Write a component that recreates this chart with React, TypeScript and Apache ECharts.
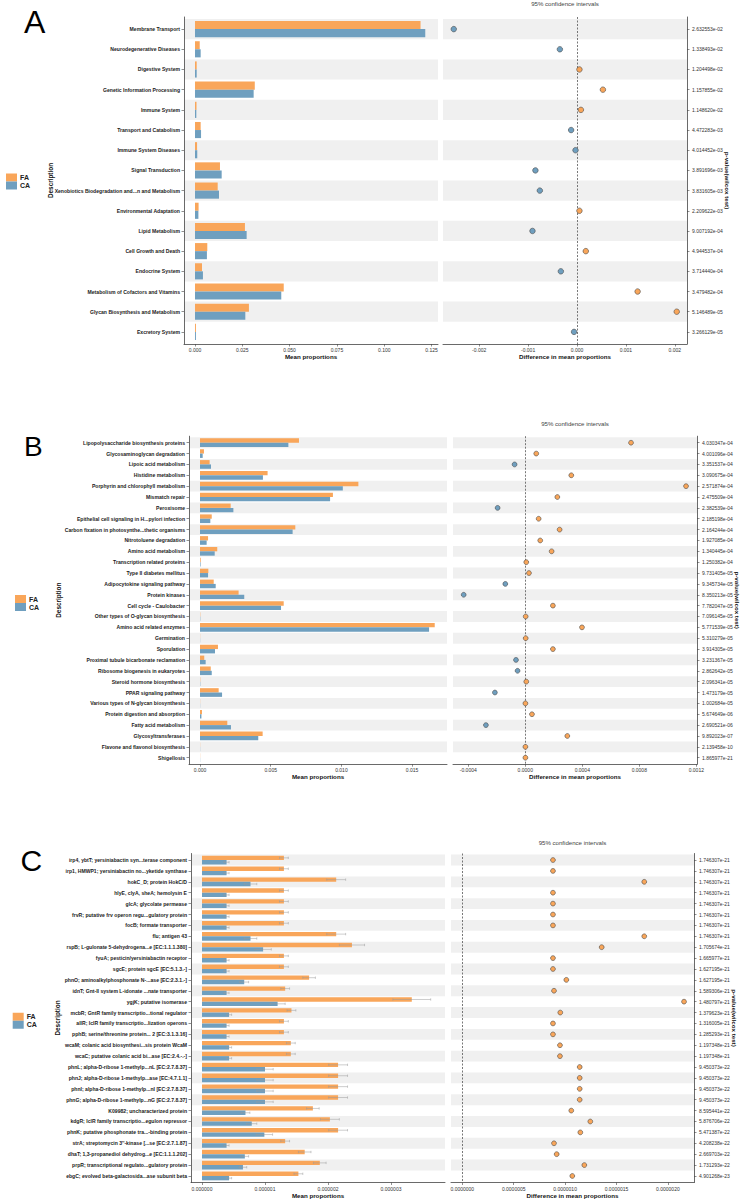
import { useEffect, useRef } from 'react';
import * as echarts from 'echarts';

const FA_COLOR = '#F9A65A';
const CA_COLOR = '#6F9FBF';
const BAND_COLOR = '#F0F0F0';
const FONT = '"Liberation Sans", Arial, Helvetica, sans-serif';

// ---------------- Panel A ----------------
const catsA = [
  'Membrane Transport', 'Neurodegenerative Diseases', 'Digestive System', 'Genetic Information Processing',
  'Immune System', 'Transport and Catabolism', 'Immune System Diseases', 'Signal Transduction',
  'Xenobiotics Biodegradation and...n and Metabolism', 'Environmental Adaptation', 'Lipid Metabolism',
  'Cell Growth and Death', 'Endocrine System', 'Metabolism of Cofactors and Vitamins',
  'Glycan Biosynthesis and Metabolism', 'Excretory System',
];
const faA = [0.1192, 0.0025, 0.0009, 0.0316, 0.0008, 0.0030, 0.0011, 0.0132, 0.0120, 0.0019, 0.0264, 0.0065, 0.0037, 0.0469, 0.0285, 0.0005];
const caA = [0.1217, 0.0030, 0.0009, 0.0310, 0.0007, 0.0032, 0.0012, 0.0141, 0.0127, 0.0018, 0.0273, 0.0063, 0.0042, 0.0456, 0.0266, 0.0005];
const diffA = [-0.00252, -0.00035, 0.00005, 0.00053, 0.00008, -0.00012, -0.00003, -0.00085, -0.00076, 0.00005, -0.00091, 0.00018, -0.00033, 0.00124, 0.00204, -0.00006];
const pA = [
  '2.632553e-02', '1.338493e-02', '1.204498e-02', '1.157855e-02', '1.148620e-02', '4.472283e-03',
  '4.014452e-03', '3.891696e-03', '3.831605e-03', '2.209622e-03', '9.007192e-04', '4.944537e-04',
  '3.714440e-04', '3.479482e-04', '5.146489e-05', '3.266129e-05',
];
const ticksALeft = [0, 0.025, 0.05, 0.075, 0.1, 0.125];
const ticksARight = [-0.002, -0.001, 0, 0.001, 0.002];

// ---------------- Panel B ----------------
const catsB = [
  'Lipopolysaccharide biosynthesis proteins', 'Glycosaminoglycan degradation', 'Lipoic acid metabolism',
  'Histidine metabolism', 'Porphyrin and chlorophyll metabolism', 'Mismatch repair', 'Peroxisome',
  'Epithelial cell signaling in H...pylori infection', 'Carbon fixation in photosynthe...thetic organisms',
  'Nitrotoluene degradation', 'Amino acid metabolism', 'Transcription related proteins',
  'Type II diabetes mellitus', 'Adipocytokine signaling pathway', 'Protein kinases', 'Cell cycle - Caulobacter',
  'Other types of O-glycan biosynthesis', 'Amino acid related enzymes', 'Germination', 'Sporulation',
  'Proximal tubule bicarbonate reclamation', 'Ribosome biogenesis in eukaryotes', 'Steroid hormone biosynthesis',
  'PPAR signaling pathway', 'Various types of N-glycan biosynthesis', 'Protein digestion and absorption',
  'Fatty acid metabolism', 'Glycosyltransferases', 'Flavone and flavonol biosynthesis', 'Shigellosis',
];
const faB = [0.0070, 0.00028, 0.00068, 0.00478, 0.0112, 0.0094, 0.00217, 0.00083, 0.00674, 0.00057, 0.00122, 0.00005, 0.00059, 0.00097, 0.00273, 0.00592, 0.00002, 0.0166, 0.00001, 0.00127, 0.0003, 0.00076, 0.00002, 0.00132, 0.00001, 0.00014, 0.00193, 0.00443, 0.00001, 0.00001];
const caB = [0.00625, 0.00019, 0.00078, 0.00445, 0.0101, 0.0092, 0.00236, 0.00073, 0.00655, 0.00047, 0.00104, 0.00004, 0.00057, 0.00111, 0.00313, 0.00573, 0.00002, 0.0162, 0.00001, 0.00106, 0.0004, 0.00083, 0.00002, 0.00156, 0.00001, 0.0001, 0.00219, 0.00412, 0.00001, 0.00001];
const diffB = [0.000742, 0.000077, -0.000075, 0.000323, 0.001128, 0.000225, -0.000194, 0.000094, 0.000241, 0.000105, 0.000185, 0.000007, 0.000026, -0.00014, -0.000432, 0.000194, 0.000003, 0.000398, 0.000003, 0.000194, -0.000065, -0.000054, 0.000007, -0.000213, 0.000001, 0.000047, -0.000276, 0.000295, 0.000001, 0.000001];
const pB = [
  '4.030347e-04', '4.001096e-04', '3.351537e-04', '3.090675e-04', '2.571874e-04', '2.475509e-04',
  '2.382539e-04', '2.185198e-04', '2.164244e-04', '1.927085e-04', '1.340445e-04', '1.250382e-04',
  '9.731405e-05', '9.345734e-05', '8.350213e-05', '7.782047e-05', '7.096145e-05', '5.771539e-05',
  '5.310279e-05', '3.914305e-05', '3.231367e-05', '2.862642e-05', '2.096341e-05', '1.473179e-05',
  '1.002684e-05', '5.674649e-06', '2.690521e-06', '9.892023e-07', '2.139458e-10', '1.865977e-21',
];
const ticksBLeft = [0, 0.005, 0.01, 0.015];
const ticksBRight = [-0.0004, 0, 0.0004, 0.0008, 0.0012];

// ---------------- Panel C ----------------
const catsC = [
  'irp4, ybtT; yersiniabactin syn...terase component', 'irp1, HMWP1; yersiniabactin no...yketide synthase',
  'hokC_D; protein HokC/D', 'hlyE, clyA, sheA; hemolysin E', 'glcA; glycolate permease',
  'frvR; putative frv operon regu...gulatory protein', 'focB; formate transporter', 'flu; antigen 43',
  'rspB; L-gulonate 5-dehydrogena...e [EC:1.1.1.380]', 'fyuA; pesticin/yersiniabactin receptor',
  'sgcE; protein sgcE [EC:5.1.3.-]', 'phnO; aminoalkylphosphonate N-...ase [EC:2.3.1.-]',
  'idnT; Gnt-II system L-idonate ...nate transporter', 'ygjK; putative isomerase',
  'mcbR; GntR family transcriptio...tional regulator', 'allR; IclR family transcriptio...lization operons',
  'pphB; serine/threonine protein... 2 [EC:3.1.3.16]', 'wcaM; colanic acid biosynthesi...sis protein WcaM',
  'wcaC; putative colanic acid bi...ase [EC:2.4.-.-]', 'phnL; alpha-D-ribose 1-methylp...nL [EC:2.7.8.37]',
  'phnJ; alpha-D-ribose 1-methylp...ase [EC:4.7.1.1]', 'phnI; alpha-D-ribose 1-methylp...nI [EC:2.7.8.37]',
  'phnG; alpha-D-ribose 1-methylp...nG [EC:2.7.8.37]', 'K09982; uncharacterized protein',
  'kdgR; IclR family transcriptio...egulon repressor', 'phnK; putative phosphonate tra...-binding protein',
  "strA; streptomycin 3''-kinase [...se [EC:2.7.1.87]", 'dhaT; 1,3-propanediol dehydrog...e [EC:1.1.1.202]',
  'prpR; transcriptional regulato...gulatory protein', 'ebgC; evolved beta-galactosida...ase subunit beta',
];
const faC = [1.30e-6, 1.30e-6, 2.13e-6, 1.30e-6, 1.30e-6, 1.30e-6, 1.30e-6, 2.13e-6, 2.38e-6, 1.30e-6, 1.30e-6, 1.70e-6, 1.32e-6, 3.33e-6, 1.42e-6, 1.30e-6, 1.30e-6, 1.41e-6, 1.41e-6, 2.16e-6, 2.16e-6, 2.16e-6, 2.16e-6, 1.76e-6, 2.03e-6, 2.16e-6, 1.32e-6, 1.63e-6, 1.87e-6, 1.53e-6];
const caC = [0.39e-6, 0.39e-6, 0.77e-6, 0.39e-6, 0.39e-6, 0.39e-6, 0.39e-6, 0.77e-6, 0.97e-6, 0.39e-6, 0.39e-6, 0.67e-6, 0.39e-6, 1.20e-6, 0.43e-6, 0.39e-6, 0.39e-6, 0.43e-6, 0.43e-6, 1.00e-6, 1.00e-6, 1.00e-6, 1.00e-6, 0.69e-6, 0.79e-6, 0.99e-6, 0.39e-6, 0.68e-6, 0.65e-6, 0.43e-6];
const faErrC = [0.07e-6, 0.07e-6, 0.15e-6, 0.07e-6, 0.07e-6, 0.07e-6, 0.07e-6, 0.15e-6, 0.2e-6, 0.07e-6, 0.07e-6, 0.1e-6, 0.07e-6, 0.3e-6, 0.07e-6, 0.07e-6, 0.07e-6, 0.07e-6, 0.07e-6, 0.15e-6, 0.15e-6, 0.15e-6, 0.15e-6, 0.1e-6, 0.15e-6, 0.15e-6, 0.07e-6, 0.1e-6, 0.1e-6, 0.07e-6];
const caErrC = [0.04e-6, 0.04e-6, 0.1e-6, 0.04e-6, 0.04e-6, 0.04e-6, 0.04e-6, 0.1e-6, 0.13e-6, 0.04e-6, 0.04e-6, 0.07e-6, 0.04e-6, 0.12e-6, 0.04e-6, 0.04e-6, 0.04e-6, 0.04e-6, 0.04e-6, 0.13e-6, 0.13e-6, 0.13e-6, 0.13e-6, 0.07e-6, 0.08e-6, 0.13e-6, 0.04e-6, 0.06e-6, 0.06e-6, 0.04e-6];
const diffC = [0.882e-6, 0.882e-6, 1.77e-6, 0.882e-6, 0.882e-6, 0.882e-6, 0.882e-6, 1.77e-6, 1.356e-6, 0.882e-6, 0.882e-6, 1.012e-6, 0.892e-6, 2.157e-6, 0.953e-6, 0.882e-6, 0.882e-6, 0.95e-6, 0.95e-6, 1.142e-6, 1.142e-6, 1.142e-6, 1.142e-6, 1.06e-6, 1.245e-6, 1.148e-6, 0.892e-6, 0.918e-6, 1.187e-6, 1.07e-6];
const pC = [
  '1.746307e-21', '1.746307e-21', '1.746307e-21', '1.746307e-21', '1.746307e-21', '1.746307e-21',
  '1.746307e-21', '1.746307e-21', '1.705674e-21', '1.665977e-21', '1.627195e-21', '1.627195e-21',
  '1.589306e-21', '1.480797e-21', '1.379623e-21', '1.316005e-21', '1.285293e-21', '1.197348e-21',
  '1.197348e-21', '9.450373e-22', '9.450373e-22', '9.450373e-22', '9.450373e-22', '8.595441e-22',
  '5.876706e-22', '5.471387e-22', '4.208238e-22', '2.669703e-22', '1.731293e-22', '4.901268e-23',
];
const ticksCLeft = [0, 0.000001, 0.000002, 0.000003];
const ticksCRight = [0, 0.0000005, 0.000001, 0.0000015, 0.000002];

// ---------------- layout ----------------
const panels = [
  {
    letter: 'A', letterX: 24, letterY: 21.5, letterSize: 32,
    cats: catsA, fa: faA, ca: caA, faErr: null as number[] | null, caErr: null as number[] | null, diff: diffA, p: pA,
    top: 17, height: 327, left: [184, 254], right: [443, 244],
    xLeft: [-0.00581, 0.12843], xRight: [-0.00274, 0.00225],
    ticksLeft: ticksALeft, ticksRight: ticksARight, decLeft: 3, decRight: 3,
    legend: [6, 173.5], descX: 50, titleY: 3.5, dot: 5.5,
  },
  {
    letter: 'B', letterX: 24, letterY: 446.5, letterSize: 28,
    cats: catsB, fa: faB, ca: caB, faErr: null as number[] | null, caErr: null as number[] | null, diff: diffB, p: pB,
    top: 436.2, height: 328, left: [189, 258], right: [453, 244],
    xLeft: [-0.000778, 0.017468], xRight: [-0.000507, 0.001205],
    ticksLeft: ticksBLeft, ticksRight: ticksBRight, decLeft: 3, decRight: 4,
    legend: [15, 595], descX: 58, titleY: 423, dot: 4.8,
  },
  {
    letter: 'C', letterX: 20.5, letterY: 860, letterSize: 30,
    cats: catsC, fa: faC, ca: caC, faErr: faErrC, caErr: caErrC, diff: diffC, p: pC,
    top: 853.5, height: 329, left: [191, 254], right: [451, 243],
    xLeft: [-1.746e-7, 3.857e-6], xRight: [-1.1e-7, 2.254e-6],
    ticksLeft: ticksCLeft, ticksRight: ticksCRight, decLeft: 6, decRight: 7,
    legend: [12.7, 1012.7], descX: 57.3, titleY: 842, dot: 4.8,
  },
];

function xAx(gi: number, range: number[], ticks: number[], dec: number, name: string) {
  return {
    gridIndex: gi, type: 'value', min: range[0], max: range[1],
    axisLine: { show: true, onZero: false, lineStyle: { color: '#444', width: 0.8 } },
    axisTick: { show: true, length: 2.5, customValues: ticks, lineStyle: { color: '#444', width: 0.6 } },
    axisLabel: { customValues: ticks, formatter: (v: number) => v.toFixed(dec), fontSize: 5, color: '#333', margin: 3.5, fontFamily: FONT },
    splitLine: { show: false },
    name, nameLocation: 'middle', nameGap: 9.5,
    nameTextStyle: { fontSize: 6.2, fontWeight: 'bold', color: '#111', fontFamily: FONT },
  };
}

function yAx(gi: number, n: number, labels: string[], position: string, bold: boolean, margin: number) {
  const idx = labels.map((_, i) => i + 1);
  return {
    gridIndex: gi, type: 'value', min: 0.4, max: n + 0.6, inverse: true, position,
    axisLine: { show: true, onZero: false, lineStyle: { color: '#444', width: 0.8 } },
    axisTick: { show: true, length: 2.5, customValues: idx, lineStyle: { color: '#444', width: 0.6 } },
    axisLabel: {
      customValues: idx,
      formatter: (v: number) => labels[Math.round(v) - 1] ?? '',
      fontSize: bold ? 5.1 : 5, fontWeight: bold ? 'bold' : 'normal', color: bold ? '#1a1a1a' : '#333',
      margin, fontFamily: FONT,
    },
    splitLine: { show: false },
  };
}

function bandSeries(gi: number, n: number) {
  const data: number[][] = [];
  for (let i = 1; i <= n; i += 2) data.push([0, i]);
  return {
    type: 'custom', xAxisIndex: gi, yAxisIndex: gi, silent: true, z: 0, data,
    encode: { x: 0, y: 1 },
    renderItem: (params: any, api: any) => {
      const i = api.value(1);
      const cs = params.coordSys;
      const ya = api.coord([0, i - 0.5])[1];
      const yb = api.coord([0, i + 0.5])[1];
      return {
        type: 'rect',
        shape: { x: cs.x, y: Math.min(ya, yb), width: cs.width, height: Math.abs(yb - ya) },
        style: { fill: BAND_COLOR },
      };
    },
  };
}

function barSeries(gi: number, name: string, vals: number[], errs: number[] | null, color: string, side: number) {
  return {
    type: 'custom', name, xAxisIndex: gi, yAxisIndex: gi, z: 2,
    data: vals.map((v, i) => [v, i + 1, errs ? errs[i] : 0]),
    encode: { x: 0, y: 1 },
    itemStyle: { color },
    renderItem: (params: any, api: any) => {
      const v = api.value(0);
      const i = api.value(1);
      const e = api.value(2);
      const p0 = api.coord([0, i]);
      const p1 = api.coord([v, i]);
      const h = Math.abs(api.size([0, 1])[1]) * 0.4;
      const y = side < 0 ? p0[1] - h : p0[1];
      const children: any[] = [
        { type: 'rect', shape: { x: p0[0], y, width: p1[0] - p0[0], height: h }, style: { fill: color } },
      ];
      if (e > 0) {
        const a = api.coord([v - e, i])[0];
        const b = api.coord([v + e, i])[0];
        const cy = y + h / 2;
        const st = { stroke: '#9a9a9a', lineWidth: 0.5 };
        children.push({ type: 'line', shape: { x1: a, y1: cy, x2: b, y2: cy }, style: st });
        children.push({ type: 'line', shape: { x1: a, y1: cy - 1.2, x2: a, y2: cy + 1.2 }, style: st });
        children.push({ type: 'line', shape: { x1: b, y1: cy - 1.2, x2: b, y2: cy + 1.2 }, style: st });
      }
      return { type: 'group', children };
    },
  };
}

function dotSeries(gi: number, diff: number[], size: number) {
  return {
    type: 'scatter', xAxisIndex: gi, yAxisIndex: gi, z: 5, symbol: 'circle', symbolSize: size,
    data: diff.map((d, i) => ({ value: [d, i + 1], itemStyle: { color: d >= 0 ? FA_COLOR : CA_COLOR } })),
    itemStyle: { borderColor: '#4a4a4a', borderWidth: 0.6, opacity: 1 },
    markLine: {
      silent: true, symbol: ['none', 'none'], label: { show: false },
      lineStyle: { color: '#555', width: 0.8, type: [2, 1.5] },
      data: [{ xAxis: 0 }],
    },
  };
}

function buildOption() {
  const grid: any[] = [];
  const xAxis: any[] = [];
  const yAxis: any[] = [];
  const series: any[] = [];
  const graphic: any[] = [];
  panels.forEach((p, k) => {
    const gl = k * 2;
    const gr = k * 2 + 1;
    const n = p.cats.length;
    grid.push({ left: p.left[0], width: p.left[1], top: p.top, height: p.height, outerBoundsMode: 'none' });
    grid.push({ left: p.right[0], width: p.right[1], top: p.top, height: p.height, outerBoundsMode: 'none' });
    xAxis.push(xAx(gl, p.xLeft, p.ticksLeft, p.decLeft, 'Mean proportions'));
    xAxis.push(xAx(gr, p.xRight, p.ticksRight, p.decRight, 'Difference in mean proportions'));
    yAxis.push(yAx(gl, n, p.cats, 'left', true, 4));
    yAxis.push(yAx(gr, n, p.p, 'right', false, 5));
    series.push(bandSeries(gl, n));
    series.push(bandSeries(gr, n));
    series.push(barSeries(gl, 'FA', p.fa, p.faErr, FA_COLOR, -1));
    series.push(barSeries(gl, 'CA', p.ca, p.caErr, CA_COLOR, 1));
    series.push(dotSeries(gr, p.diff, p.dot));

    const midY = p.top + p.height / 2;
    graphic.push({
      type: 'text', x: p.letterX, y: p.letterY,
      style: { text: p.letter, fontSize: p.letterSize, fontFamily: FONT, fill: '#000', textAlign: 'left', textVerticalAlign: 'middle' },
    });
    graphic.push({
      type: 'text', x: p.right[0] + p.right[1] / 2, y: p.titleY,
      style: { text: '95% confidence intervals', fontSize: 6.1, fontFamily: FONT, fill: '#444', textAlign: 'center', textVerticalAlign: 'middle' },
    });
    graphic.push({
      type: 'text', x: p.descX, y: midY, rotation: Math.PI / 2,
      style: { text: 'Description', fontSize: 6.4, fontWeight: 'bold', fontFamily: FONT, fill: '#111', textAlign: 'center', textVerticalAlign: 'middle' },
    });
    graphic.push({
      type: 'text', x: p.right[0] + p.right[1] + 40, y: midY, rotation: -Math.PI / 2,
      style: { text: 'p-value(wilcox test)', fontSize: 6.2, fontWeight: 'bold', fontFamily: FONT, fill: '#111', textAlign: 'center', textVerticalAlign: 'middle' },
    });
    const [lx, ly] = p.legend;
    graphic.push({ type: 'rect', shape: { x: lx, y: ly, width: 11, height: 8 }, style: { fill: FA_COLOR } });
    graphic.push({ type: 'rect', shape: { x: lx, y: ly + 8, width: 11, height: 8 }, style: { fill: CA_COLOR } });
    graphic.push({
      type: 'text', x: lx + 14, y: ly + 4,
      style: { text: 'FA', fontSize: 7, fontWeight: 'bold', fontFamily: FONT, fill: '#222', textAlign: 'left', textVerticalAlign: 'middle' },
    });
    graphic.push({
      type: 'text', x: lx + 14, y: ly + 12,
      style: { text: 'CA', fontSize: 7, fontWeight: 'bold', fontFamily: FONT, fill: '#222', textAlign: 'left', textVerticalAlign: 'middle' },
    });
  });
  return {
    animation: false,
    backgroundColor: '#ffffff',
    textStyle: { fontFamily: FONT },
    grid, xAxis, yAxis, series, graphic,
  };
}

export default function App() {
  const ref = useRef<HTMLDivElement>(null);
  useEffect(() => {
    if (!ref.current) return;
    const chart = echarts.init(ref.current, undefined, { renderer: 'svg' });
    chart.setOption(buildOption() as any);
    return () => chart.dispose();
  }, []);
  return <div ref={ref} style={{ position: 'absolute', left: 0, top: 0, width: 744, height: 1200 }} />;
}
